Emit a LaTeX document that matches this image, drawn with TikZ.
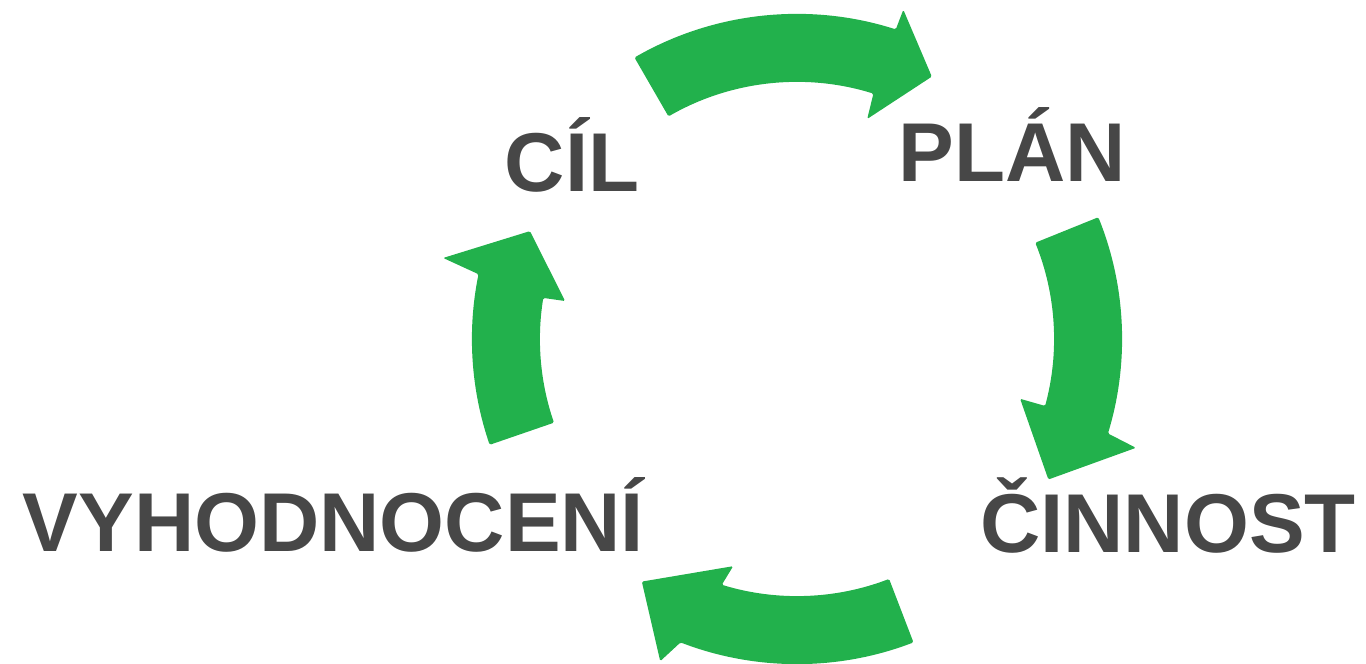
\documentclass[tikz,border=0pt]{standalone}
\usepackage{fontspec}
\setmainfont{Liberation Sans}
\usepackage{tikz}
\usetikzlibrary{calc}
\definecolor{cyclegreen}{RGB}{34,177,76}
\definecolor{labelgray}{RGB}{71,71,71}
\tikzset{
	cyclearrow/.style={fill=cyclegreen, rounded corners=0.8pt},
	phase/.style={text=labelgray, font=\fontsize{47.5}{50}\selectfont\bfseries, inner sep=0pt, anchor=base}
}

\begin{document}
\begin{tikzpicture}
		\useasboundingbox (-15.94,-6.5) rectangle (11.38,6.78);
		\fill[cyclearrow] (120:6.5) arc[start angle=120, end angle=72.3, radius=6.5] -- (72.1:6.92) -- (62.8:5.9) -- (72.3:4.62) -- (72.7:5.14) arc[start angle=72.7, end angle=120, radius=5.14] -- cycle;
		\fill[cyclearrow] (22:6.5) arc[start angle=22, end angle=-16.9, radius=6.5] -- (-17.8:7.12) -- (-29.2:5.76) -- (-15:4.62) -- (-15.1:5.14) arc[start angle=-15.1, end angle=22, radius=5.14] -- cycle;
		\fill[cyclearrow] (-69:6.5) arc[start angle=-69, end angle=-111, radius=6.5] -- (-113:7) -- (-122.6:5.76) -- (-105.7:4.72) -- (-107:5.14) arc[start angle=-107, end angle=-69, radius=5.14] -- cycle;
		\fill[cyclearrow] (199:6.5) arc[start angle=199, end angle=168.5, radius=6.5] -- (167.1:7.26) -- (158:5.76) -- (170.7:4.7) -- (170.8:5.14) arc[start angle=170.8, end angle=199, radius=5.14] -- cycle;
		\node[phase] (cil) at (-4.5,2.94) {CÍL};
		\node[phase] (plan) at (4.3,3.14) {PLÁN};
		\node[phase] (cinnost) at (7.42,-4.28) {ČINNOST};
		\node[phase] (vyhodnoceni) at (-9.27,-4.26) {VYHODNOCENÍ};
	\end{tikzpicture}
\end{document}
